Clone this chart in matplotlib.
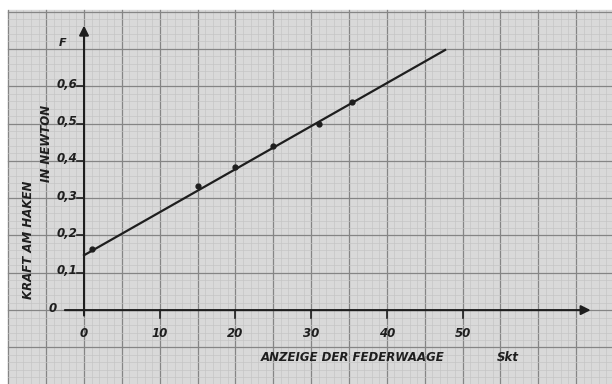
import matplotlib
matplotlib.use('Agg')
import matplotlib.pyplot as plt
import numpy as np

# Messwerte: Anzeige der Federwaage (Skt) und Kraft am Haken (N)
anzeige = [1, 15, 20, 25, 31, 35.4]
kraft = [0.165, 0.333, 0.384, 0.44, 0.499, 0.557]

# Ausgleichsgerade (von Hand gezogen)
gerade_x = [0, 47.7]
gerade_f = [0.147, 0.697]

x_ticks = [0, 10, 20, 30, 40, 50]
x_labels = ['0', '10', '20', '30', '40', '50']
y_ticks = [0, 0.1, 0.2, 0.3, 0.4, 0.5, 0.6]
y_labels = ['0', '0,1', '0,2', '0,3', '0,4', '0,5', '0,6']

fig = plt.figure(figsize=(6.12, 3.84), dpi=100)
fig.patch.set_facecolor('white')
ax = fig.add_axes([0, 0, 1, 1])
ax.set_xlim(-11.1, 69.75)
ax.set_ylim(-0.198, 0.831)
ax.axis('off')

ink = '#1e1e1e'

# Millimeterpapier
x0, y1 = -10.0, 0.805
ax.add_patch(plt.Rectangle((x0, -0.25), 90, y1 + 0.25, color='#d9d9d9', zorder=0))
for gx in np.arange(-10, 70.01, 1):
    if abs(gx % 5) < 1e-6:
        c, lw = '#858585', 0.9
    elif abs(gx % 2.5) < 1e-6:
        c, lw = '#a2a2a2', 0.7
    else:
        c, lw = '#c4c4c4', 0.45
    ax.plot([gx, gx], [-0.25, y1], color=c, lw=lw, zorder=1)
for gy in np.arange(-0.2, 0.801, 0.02):
    k = round(gy * 100)
    if k % 10 == 0:
        c, lw = '#858585', 0.9
    elif k % 5 == 0:
        c, lw = '#a2a2a2', 0.7
    else:
        c, lw = '#c4c4c4', 0.45
    ax.plot([x0, 75], [gy, gy], color=c, lw=lw, zorder=1)

# Achsen mit Pfeilen
ax.annotate('', xy=(0, 0.77), xytext=(0, -0.022),
            arrowprops=dict(arrowstyle='-|>', color=ink, lw=1.5, mutation_scale=14), zorder=3)
ax.annotate('', xy=(67.3, 0), xytext=(-2.9, 0),
            arrowprops=dict(arrowstyle='-|>', color=ink, lw=1.5, mutation_scale=14), zorder=3)

for t in y_ticks[1:]:
    ax.plot([-0.9, 0], [t, t], color=ink, lw=1.2, zorder=3)
for t in x_ticks[1:]:
    ax.plot([t, t], [0, -0.022], color=ink, lw=1.2, zorder=3)

txt = dict(color=ink, style='italic', fontweight='bold', zorder=4)
for t, lab in zip(y_ticks, y_labels):
    xpos = -3.6 if t == 0 else -0.9
    ax.text(xpos, t + 0.005, lab, ha='right', va='center', fontsize=8.5, **txt)
for t, lab in zip(x_ticks, x_labels):
    ax.text(t, -0.062, lab, ha='center', va='center', fontsize=8.5, **txt)

ax.text(-2.8, 0.716, 'F', ha='center', va='center', fontsize=8, **txt)
ax.text(-7.4, 0.188, 'KRAFT AM HAKEN', rotation=90, ha='center', va='center', fontsize=8.5, **txt)
ax.text(-4.9, 0.447, 'IN NEWTON', rotation=90, ha='center', va='center', fontsize=8.5, **txt)
ax.text(35.5, -0.126, 'ANZEIGE DER FEDERWAAGE', ha='center', va='center', fontsize=8.5, **txt)
ax.text(56, -0.126, 'Skt', ha='center', va='center', fontsize=8.5, **txt)

# Gerade und Messpunkte
ax.plot(gerade_x, gerade_f, color=ink, lw=1.6, zorder=3)
ax.plot(anzeige, kraft, 'o', color=ink, markersize=3.5, zorder=4)

fig.savefig('out.png', dpi=100)
